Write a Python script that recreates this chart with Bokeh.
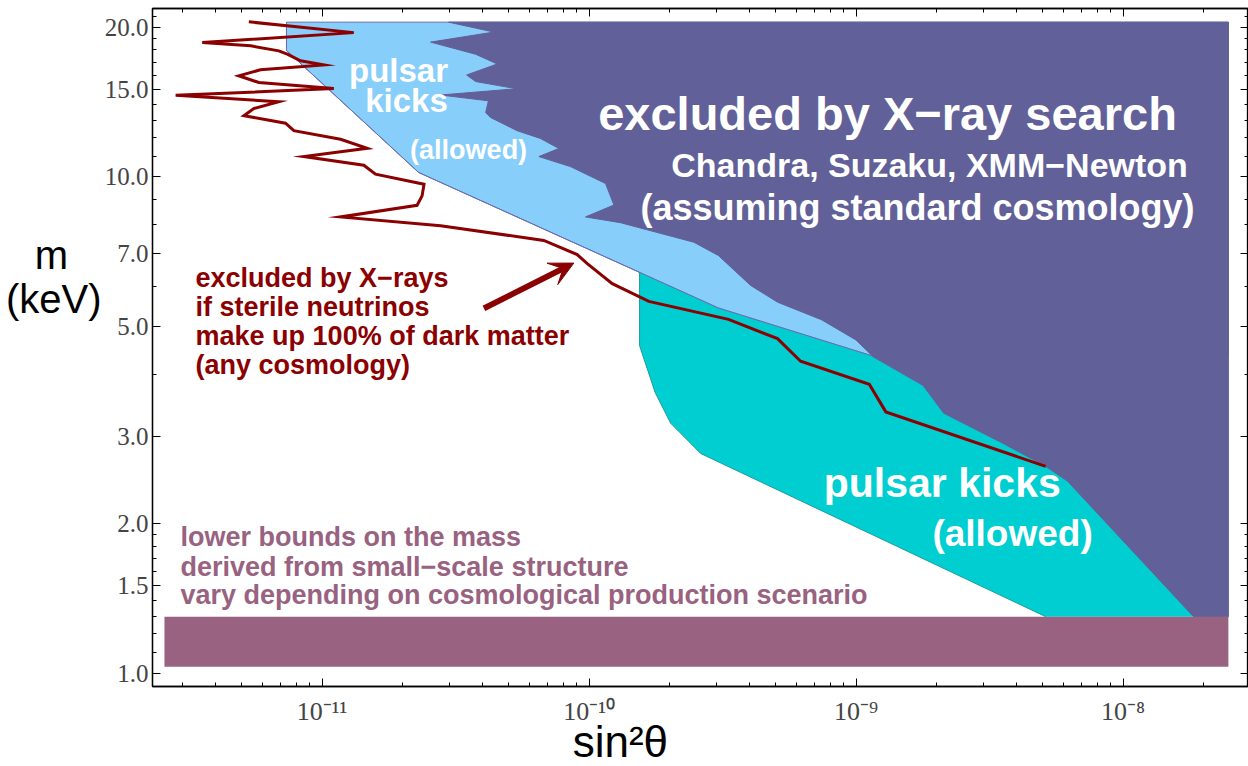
from bokeh.plotting import figure
from bokeh.models import (LogAxis, FixedTicker, CustomJSTickFormatter, Label,
                          Arrow, VeeHead)
from bokeh.embed import file_html
from bokeh.resources import INLINE

# ---------------- data (sin^2(theta), m in keV) ----------------
# X-ray exclusion region: jagged left boundary, from top to bottom
xray_sin2 = [2.98e-11, 4.40e-11, 2.55e-11, 3.76e-11, 4.53e-11, 3.48e-11, 3.76e-11,
             5.35e-11, 2.78e-11, 4.20e-11, 4.10e-11, 4.28e-11, 5.38e-11, 6.58e-11,
             7.71e-11, 6.49e-11, 8.52e-11, 1.153e-10, 1.239e-10, 9.70e-11, 1.312e-10,
             2.47e-10, 3.05e-10, 4.03e-10, 5.08e-10, 7.43e-10, 9.99e-10, 1.159e-9,
             1.781e-9, 2.13e-9, 3.57e-9, 5.13e-9, 6.18e-9, 1.837e-8]
xray_m = [20.48, 19.56, 18.67, 17.65, 16.87, 16.03, 15.55,
          15.04, 14.61, 14.22, 13.47, 13.16, 12.38, 11.94,
          11.40, 10.98, 10.48, 9.69, 8.77, 8.30, 8.08,
          7.38, 6.94, 6.04, 5.59, 5.15, 4.69, 4.34,
          3.80, 3.34, 2.90, 2.61, 2.44, 1.30]
xray_right = 2.48e-8
top_m = 20.48

# pulsar kicks (allowed), high-mass part: lower-left boundary
pk_hi_sin2 = [7.36e-12, 7.36e-12, 2.30e-11, 3.05e-10, 1.143e-9]
pk_hi_m = [20.48, 17.96, 10.2, 5.44, 4.36]

# pulsar kicks (allowed), low-mass part: left / lower boundary
pk_lo_sin2 = [1.546e-10, 1.546e-10, 1.70e-10, 1.767e-10, 2.02e-10, 2.62e-10, 5.13e-9]
pk_lo_m = [6.42, 4.57, 3.92, 3.68, 3.19, 2.77, 1.30]

# X-ray bound if sterile neutrinos are 100% of dark matter
dm_sin2 = [5.32e-12, 1.315e-11, 3.56e-12, 5.40e-12, 6.89e-12, 7.41e-12, 8.31e-12,
           1.016e-11, 5.88e-12, 4.88e-12, 5.80e-12, 1.107e-11, 2.83e-12, 6.89e-12,
           5.55e-12, 5.10e-12, 7.30e-12, 7.84e-12, 1.173e-11, 1.477e-11, 8.55e-12,
           1.434e-11, 1.586e-11, 2.41e-11, 2.37e-11, 2.27e-11, 1.173e-11, 2.78e-11,
           6.77e-11, 9.03e-11, 9.85e-11, 1.222e-10, 1.675e-10, 3.33e-10, 5.08e-10,
           6.20e-10, 1.121e-9, 1.293e-9, 5.13e-9]
dm_m = [20.51, 19.51, 18.63, 18.35, 17.93, 17.65, 17.12,
        16.80, 16.42, 15.97, 15.48, 15.05, 14.59, 14.16,
        13.72, 13.27, 12.82, 12.38, 11.90, 11.41, 10.98,
        10.55, 10.12, 9.66, 9.15, 8.76, 8.30, 7.97,
        7.44, 6.97, 6.68, 6.09, 5.61, 5.16, 4.72,
        4.25, 3.82, 3.36, 2.61]

# small-scale structure lower bound band
band_sin2 = [2.57e-12, 2.48e-8]
band_m = [1.03, 1.30]

# ticks
x_major = [1e-11, 1e-10, 1e-9, 1e-8]
x_tick_labels = ["10\u207b\u00b9\u00b9", "10\u207b\u00b9\u2070", "10\u207b\u2079", "10\u207b\u2078"]
x_minor = [k * 10.0 ** n for n in range(-12, -7) for k in range(2, 10)]
y_major = [1.0, 1.5, 2.0, 3.0, 5.0, 7.0, 10.0, 15.0, 20.0]
y_tick_labels = ["1.0", "1.5", "2.0", "3.0", "5.0", "7.0", "10.0", "15.0", "20.0"]
y_minor = [1.1, 1.2, 1.3, 1.4, 1.6, 1.7, 1.8, 1.9, 4.0, 6.0, 8.0, 9.0,
           11.0, 12.0, 13.0, 14.0, 16.0, 17.0, 18.0, 19.0, 21.0]

# axis titles (drawn as tick labels of extra, tick-less axes)
x_title = "sin\u00b2\u03b8"
x_title_at = [1.31e-10]
y_title = ["m\u00a0\u00a0\u00a0", "(keV)"]
y_title_at = [6.97, 5.66]

# colours
C_XRAY = "#626098"
C_PK_HI = "#87CEFA"
C_PK_LO = "#00CED1"
C_BAND = "#986280"
C_RED = "#8B0000"

# ---------------- figure ----------------
p = figure(x_axis_type="log", y_axis_type="log",
           x_range=(2.318e-12, 2.95e-8), y_range=(0.9402, 21.82),
           frame_width=1096, frame_height=678,
           min_border_left=152, min_border_right=0, min_border_top=8, min_border_bottom=80,
           output_backend="svg", toolbar_location=None,
           background_fill_color="white", border_fill_color="white")
p.grid.visible = False
p.outline_line_color = "black"
p.outline_line_width = 1.3

lookup = """
let best = 0, bd = Infinity;
for (let i = 0; i < tk.length; i++) {
  const d = Math.abs(Math.log10(tk[i]) - Math.log10(tick));
  if (d < bd) { bd = d; best = i; }
}
return lbl[best];
"""


def style(ax, labelled):
    ax.major_tick_in = 8
    ax.major_tick_out = 0
    ax.minor_tick_in = 4
    ax.minor_tick_out = 0
    ax.axis_line_color = "black"
    ax.axis_line_width = 1.3
    ax.major_tick_line_color = "black"
    ax.minor_tick_line_color = "black"
    ax.major_tick_line_width = 1
    ax.minor_tick_line_width = 1
    if not labelled:
        ax.major_label_text_font_size = "0px"
        ax.major_label_standoff = 0


def title_axis(ax):
    ax.axis_line_color = None
    ax.major_tick_line_color = None
    ax.minor_tick_line_color = None
    ax.major_tick_in = 0
    ax.major_tick_out = 0
    ax.minor_tick_in = 0
    ax.minor_tick_out = 0
    ax.major_label_text_font = "Liberation Sans"
    ax.major_label_text_color = "black"


xa = p.xaxis[0]
xa.ticker = FixedTicker(ticks=x_major, minor_ticks=x_minor)
xa.formatter = CustomJSTickFormatter(args=dict(tk=x_major, lbl=x_tick_labels), code=lookup)
xa.major_label_text_font = "Liberation Serif"
xa.major_label_text_font_size = "26px"
xa.major_label_standoff = 10
style(xa, True)

ya = p.yaxis[0]
ya.ticker = FixedTicker(ticks=y_major, minor_ticks=y_minor)
ya.formatter = CustomJSTickFormatter(args=dict(tk=y_major, lbl=y_tick_labels), code=lookup)
ya.major_label_text_font = "Liberation Serif"
ya.major_label_text_font_size = "25px"
ya.major_label_standoff = 4
style(ya, True)

top_ax = LogAxis(ticker=FixedTicker(ticks=x_major, minor_ticks=x_minor),
                 formatter=CustomJSTickFormatter(code="return '';"))
style(top_ax, False)
p.add_layout(top_ax, "above")
right_ax = LogAxis(ticker=FixedTicker(ticks=y_major, minor_ticks=y_minor),
                   formatter=CustomJSTickFormatter(code="return '';"))
style(right_ax, False)
p.add_layout(right_ax, "right")

# x title: a second bottom axis whose only tick label is the title
xt = LogAxis(ticker=FixedTicker(ticks=x_title_at, minor_ticks=[]),
             formatter=CustomJSTickFormatter(args=dict(t=x_title), code="return t;"))
title_axis(xt)
xt.major_label_text_font_size = "44px"
xt.major_label_standoff = -12
p.add_layout(xt, "below")

# y title: a second left axis with two tick labels, horizontal
yt = LogAxis(ticker=FixedTicker(ticks=y_title_at, minor_ticks=[]),
             formatter=CustomJSTickFormatter(args=dict(tk=y_title_at, lbl=y_title), code=lookup))
title_axis(yt)
yt.major_label_text_font_size = "40px"
yt.major_label_standoff = 0
p.add_layout(yt, "left")

# ---------------- regions ----------------
# light-blue pulsar kick region (its right part is hidden under the X-ray region)
hi_xs = pk_hi_sin2 + [xray_right, xray_right]
hi_ys = pk_hi_m + [pk_hi_m[-1], top_m]
p.patch(hi_xs, hi_ys, fill_color=C_PK_HI, line_color="#6B6FAF", line_width=1)

# cyan pulsar kick region, upper edge follows the light-blue boundary
upper = [(x, y) for x, y in zip(pk_hi_sin2, pk_hi_m) if x > pk_lo_sin2[0]]
lo_xs = pk_lo_sin2 + [xray_right, xray_right] + [x for x, _ in reversed(upper)]
lo_ys = pk_lo_m + [pk_lo_m[-1], pk_hi_m[-1]] + [y for _, y in reversed(upper)]
p.patch(lo_xs, lo_ys, fill_color=C_PK_LO, line_color=None)
p.line(pk_lo_sin2, pk_lo_m, line_color="#1C9C9E", line_width=1)
p.line(pk_hi_sin2, pk_hi_m, line_color="#6B6FAF", line_width=1)

# X-ray exclusion region
xr_xs = xray_sin2 + [xray_right, xray_right]
xr_ys = xray_m + [xray_m[-1], top_m]
p.patch(xr_xs, xr_ys, fill_color=C_XRAY, line_color=C_XRAY, line_width=1)

# mass lower-bound band
p.quad(left=[band_sin2[0]], right=[band_sin2[1]], bottom=[band_m[0]], top=[band_m[1]],
       fill_color=C_BAND, line_color=None)

# 100% dark matter X-ray bound
p.line(dm_sin2, dm_m, line_color=C_RED, line_width=3, line_join="miter")

# arrow
p.add_layout(Arrow(end=VeeHead(size=24, fill_color=C_RED, line_color=C_RED),
                   x_start=4.04e-11, y_start=5.43, x_end=8.77e-11, y_end=6.70,
                   line_color=C_RED, line_width=6))


# ---------------- texts ----------------
def lab(x, y, text, size, color, align="center", bold=True, font="Liberation Sans"):
    p.add_layout(Label(x=x, y=y, text=text, text_font=font,
                       text_font_style="bold" if bold else "normal",
                       text_font_size=size, text_color=color,
                       text_align=align, text_baseline="alphabetic"))


lab(1.312e-9, 13.41, "excluded by X\u2212ray search", "47px", "white")
lab(1.885e-9, 10.56, "Chandra, Suzaku, XMM\u2212Newton", "34px", "white")
lab(1.699e-9, 8.68, "(assuming standard cosmology)", "36px", "white")

lab(1.934e-11, 16.38, "pulsar", "33px", "white")
lab(2.072e-11, 14.25, "kicks", "33px", "white")
lab(3.54e-11, 11.31, "(allowed)", "27px", "white")

lab(2.103e-9, 2.416, "pulsar kicks", "41px", "white")
lab(3.856e-9, 1.908, "(allowed)", "37px", "white")

red_lines = ["excluded by X\u2212rays", "if sterile neutrinos",
             "make up 100% of dark matter", "(any cosmology)"]
for t, yy in zip(red_lines, [6.245, 5.457, 4.771, 4.170]):
    lab(3.36e-12, yy, t, "27px", C_RED, align="left")

band_lines = ["lower bounds on the mass", "derived from small\u2212scale structure",
              "vary depending on cosmological production scenario"]
for t, yy in zip(band_lines, [1.879, 1.636, 1.434]):
    lab(2.95e-12, yy, t, "27px", C_BAND, align="left")

open("out.html", "w").write(file_html(p, INLINE))
